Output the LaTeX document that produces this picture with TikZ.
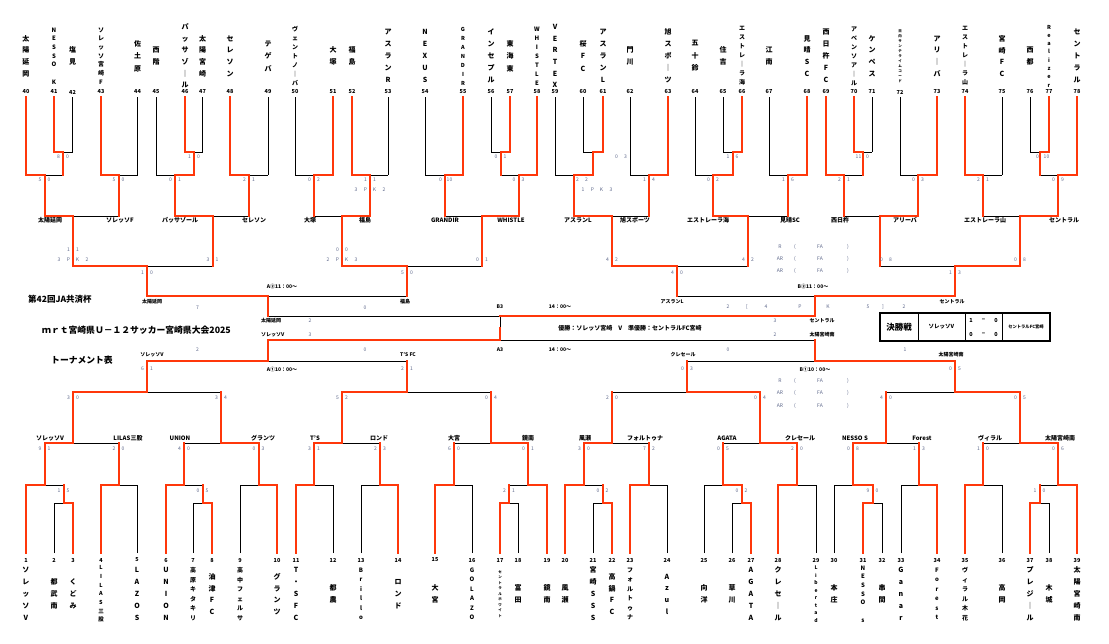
\documentclass[tikz,border=0pt]{standalone}
\usepackage{fontspec}
\setmainfont{Noto Sans CJK JP}
\definecolor{rd}{RGB}{255,55,10}
\definecolor{sg}{RGB}{95,105,140}
\pgfdeclarelayer{back}\pgfdeclarelayer{bg}\pgfsetlayers{back,bg,main}
\newcommand\mVw[3]{\draw[win] (#1,#2)--(#1,#3);}
\newcommand\mVl[3]{\begin{pgfonlayer}{bg}\draw[lose] (#1,#2)--(#1,#3);\end{pgfonlayer}}
\newcommand\mTL[4]{\if#4w\mVw{#1}{#2}{#3}\else\mVl{#1}{#2}{#3}\fi}
\newcommand\mJ[5]{\if#5l\draw[win] (#1,#4)--(#2,#4);\begin{pgfonlayer}{bg}\draw[lose] (#2,#4)--(#3,#4);\end{pgfonlayer}\else\begin{pgfonlayer}{bg}\draw[lose] (#1,#4)--(#2,#4);\end{pgfonlayer}\draw[win] (#2,#4)--(#3,#4);\fi}
\newcommand\mS[4]{\node[scs] at (#1-4.5,#2) {#3};\node[scs] at (#1+4.5,#2) {#4};}
\newcommand\mPK[4]{\node[scs] at (#1-14,#2) {#3};\node[scs] at (#1-4.5,#2) {P};\node[scs] at (#1+4.5,#2) {K};\node[scs] at (#1+14,#2) {#4};}
\newcommand\vn[5]{\node[vname,font=\fontsize{#3}{#4}\selectfont\bfseries] at (#1,#2) {#5};}
\def\yT{97}\def\yP{152}\def\yG{175}\def\yS{216}\def\yQ{266}\def\yH{296}\def\yF{316}\def\yM{328}
\def\yFF{340}\def\yBH{361}\def\yBQ{392}\def\yBS{443}\def\yBG{485}\def\yBP{503}\def\yB{553}
\begin{document}
\begin{tikzpicture}[x=1pt,y=-1pt,
 win/.style={draw=rd,line width=2pt,line cap=rect},
 lose/.style={draw=black,line width=0.8pt},
 scs/.style={font=\fontsize{5}{5}\selectfont,text=sg,inner sep=0pt},
 lab/.style={font=\fontsize{6}{6}\selectfont\bfseries,inner sep=0pt},
 slab/.style={font=\fontsize{5}{5}\selectfont\bfseries,inner sep=0pt},
 num/.style={font=\fontsize{5.5}{5.5}\selectfont\bfseries,inner sep=0pt},
 vname/.style={align=center,inner sep=0pt}]
\useasboundingbox (0,0) rectangle (1109,643);
\begin{pgfonlayer}{back}\fill[white] (0,0) rectangle (1109,643);\end{pgfonlayer}
% ================= TOP BRACKET =================
\mTL{26}{\yT}{\yG}{w}\mTL{54}{\yT}{\yP}{w}\mTL{72.5}{\yT}{\yP}{l}
\mJ{54}{63}{72.5}{\yP}{l}\mVw{63}{\yP}{\yG}\mJ{26}{44.6}{63}{\yG}{l}\mVw{44.6}{\yG}{\yS}
\mTL{101}{\yT}{\yG}{w}\mTL{137.5}{\yT}{\yG}{l}\mJ{101}{118.6}{137.5}{\yG}{l}\mVw{118.6}{\yG}{\yS}
\mJ{44.6}{73}{118.6}{\yS}{l}\mVw{73}{\yS}{\yQ}
\mTL{156}{\yT}{\yG}{l}\mTL{185}{\yT}{\yP}{w}\mTL{202.5}{\yT}{\yP}{l}
\mJ{185}{194}{202.5}{\yP}{l}\mVw{194}{\yP}{\yG}\mJ{156}{175}{194}{\yG}{r}\mVw{175}{\yG}{\yS}
\mTL{230}{\yT}{\yG}{w}\mTL{268}{\yT}{\yG}{l}\mJ{230}{249}{268}{\yG}{l}\mVw{249}{\yG}{\yS}
\mJ{175}{212.5}{249}{\yS}{l}\mVw{212.5}{\yS}{\yQ}
\mJ{73}{147}{212.5}{\yQ}{l}\mVw{147}{\yQ}{\yH}
\mTL{295}{\yT}{\yG}{l}\mTL{333}{\yT}{\yG}{w}\mJ{295}{314}{333}{\yG}{r}\mVw{314}{\yG}{\yS}
\mTL{352}{\yT}{\yG}{w}\mTL{388}{\yT}{\yG}{l}\mJ{352}{370}{388}{\yG}{l}\mVw{370}{\yG}{\yS}
\mJ{314}{342}{370}{\yS}{r}\mVw{342}{\yS}{\yQ}
\mTL{425}{\yT}{\yG}{l}\mTL{463}{\yT}{\yG}{w}\mJ{425}{445}{463}{\yG}{r}\mVw{445}{\yG}{\yS}
\mTL{491}{\yT}{\yP}{l}\mTL{510}{\yT}{\yP}{w}\mJ{491}{500.5}{510}{\yP}{r}\mVw{500.5}{\yP}{\yG}
\mTL{537}{\yT}{\yG}{w}\mJ{500.5}{518.6}{537}{\yG}{r}\mVw{518.6}{\yG}{\yS}
\mJ{445}{482}{518.6}{\yS}{r}\mVw{482}{\yS}{\yQ}
\mJ{342}{407}{482}{\yQ}{l}\mVw{407}{\yQ}{\yH}
\mJ{147}{268}{407}{\yH}{l}\mVw{268}{\yH}{\yF}
% top right
\mTL{555}{\yT}{\yG}{l}\mTL{583}{\yT}{\yP}{l}\mTL{603}{\yT}{\yP}{w}
\mJ{583}{593}{603}{\yP}{r}\mVw{593}{\yP}{\yG}\mJ{555}{574}{593}{\yG}{r}\mVw{574}{\yG}{\yS}
\mTL{630}{\yT}{\yG}{l}\mTL{668}{\yT}{\yG}{w}\mJ{630}{649}{668}{\yG}{r}\mVw{649}{\yG}{\yS}
\mJ{574}{612}{649}{\yS}{l}\mVw{612}{\yS}{\yQ}
\mTL{695}{\yT}{\yG}{l}\mTL{723}{\yT}{\yP}{l}\mTL{742}{\yT}{\yP}{w}
\mJ{723}{732.5}{742}{\yP}{r}\mVw{732.5}{\yP}{\yG}\mJ{695}{713}{732.5}{\yG}{r}\mVw{713}{\yG}{\yS}
\mTL{769}{\yT}{\yG}{l}\mTL{807}{\yT}{\yG}{w}\mJ{769}{788}{807}{\yG}{r}\mVw{788}{\yG}{\yS}
\mJ{713}{748}{788}{\yS}{l}\mVw{748}{\yS}{\yQ}
\mJ{612}{677}{748}{\yQ}{l}\mVw{677}{\yQ}{\yH}
\mTL{826}{\yT}{\yG}{w}\mTL{854}{\yT}{\yP}{w}\mTL{872}{\yT}{\yP}{l}
\mJ{854}{863}{872}{\yP}{l}\mVw{863}{\yP}{\yG}\mJ{826}{844}{863}{\yG}{l}\mVw{844}{\yG}{\yS}
\mTL{900}{\yT}{\yG}{l}\mTL{937}{\yT}{\yG}{w}\mJ{900}{918}{937}{\yG}{r}\mVw{918}{\yG}{\yS}
\mJ{844}{880}{918}{\yS}{r}\mVw{880}{\yS}{\yQ}
\mTL{965}{\yT}{\yG}{w}\mTL{1002}{\yT}{\yG}{l}\mJ{965}{983}{1002}{\yG}{l}\mVw{983}{\yG}{\yS}
\mTL{1030}{\yT}{\yP}{l}\mTL{1049}{\yT}{\yP}{w}\mJ{1030}{1039.5}{1049}{\yP}{r}\mVw{1039.5}{\yP}{\yG}
\mTL{1077}{\yT}{\yG}{w}\mJ{1039.5}{1058}{1077}{\yG}{r}\mVw{1058}{\yG}{\yS}
\mJ{983}{1020}{1058}{\yS}{r}\mVw{1020}{\yS}{\yQ}
\mJ{880}{955}{1020}{\yQ}{r}\mVw{955}{\yQ}{\yH}
\mJ{677}{815}{955}{\yH}{r}\mVw{815}{\yH}{\yF}
% ================= FINALS =================
\mJ{268}{500}{815}{\yF}{r}
\mJ{268}{500}{815}{\yFF}{l}
\mVl{500}{\yF}{\yM}\mVw{500}{\yFF}{\yM}
% ================= BOTTOM BRACKET =================
\mTL{26}{\yB}{\yBG}{w}\mTL{54}{\yB}{\yBP}{l}\mTL{73}{\yB}{\yBP}{w}
\mJ{54}{63.5}{73}{\yBP}{r}\mVw{63.5}{\yBP}{\yBG}\mJ{26}{44.6}{63.5}{\yBG}{l}\mVw{44.6}{\yBG}{\yBS}
\mTL{101}{\yB}{\yBG}{w}\mTL{137}{\yB}{\yBG}{l}\mJ{101}{118.6}{137}{\yBG}{l}\mVw{118.6}{\yBG}{\yBS}
\mJ{44.6}{73}{118.6}{\yBS}{l}\mVw{73}{\yBS}{\yBQ}
\mTL{166}{\yB}{\yBG}{w}\mTL{193}{\yB}{\yBP}{l}\mTL{212}{\yB}{\yBP}{w}
\mJ{193}{202.5}{212}{\yBP}{r}\mVw{202.5}{\yBP}{\yBG}\mJ{166}{184}{202.5}{\yBG}{l}\mVw{184}{\yBG}{\yBS}
\mTL{240}{\yB}{\yBG}{l}\mTL{277}{\yB}{\yBG}{w}\mJ{240}{258.5}{277}{\yBG}{r}\mVw{258.5}{\yBG}{\yBS}
\mJ{184}{221}{258.5}{\yBS}{r}\mVw{221}{\yBS}{\yBQ}
\mJ{73}{147}{221}{\yBQ}{l}\mVw{147}{\yBQ}{\yBH}
\mTL{296}{\yB}{\yBG}{w}\mTL{333}{\yB}{\yBG}{l}\mJ{296}{314}{333}{\yBG}{l}\mVw{314}{\yBG}{\yBS}
\mTL{361}{\yB}{\yBG}{l}\mTL{398}{\yB}{\yBG}{w}\mJ{361}{380}{398}{\yBG}{r}\mVw{380}{\yBG}{\yBS}
\mJ{314}{342}{380}{\yBS}{l}\mVw{342}{\yBS}{\yBQ}
\mTL{435}{\yB}{\yBG}{w}\mTL{472}{\yB}{\yBG}{l}\mJ{435}{454}{472}{\yBG}{l}\mVw{454}{\yBG}{\yBS}
\mTL{500}{\yB}{\yBP}{w}\mTL{518}{\yB}{\yBP}{l}\mJ{500}{509}{518}{\yBP}{l}\mVw{509}{\yBP}{\yBG}
\mTL{547}{\yB}{\yBG}{w}\mJ{509}{528}{547}{\yBG}{r}\mVw{528}{\yBG}{\yBS}
\mJ{454}{491}{528}{\yBS}{r}\mVw{491}{\yBS}{\yBQ}
\mJ{342}{407}{491}{\yBQ}{l}\mVw{407}{\yBQ}{\yBH}
\mJ{147}{268}{407}{\yBH}{l}\mVw{268}{\yBH}{\yFF}
\mTL{565}{\yB}{\yBG}{w}\mTL{593}{\yB}{\yBP}{l}\mTL{612}{\yB}{\yBP}{w}
\mJ{593}{602.5}{612}{\yBP}{r}\mVw{602.5}{\yBP}{\yBG}\mJ{565}{584}{602.5}{\yBG}{l}\mVw{584}{\yBG}{\yBS}
\mTL{630}{\yB}{\yBG}{w}\mTL{667}{\yB}{\yBG}{l}\mJ{630}{649}{667}{\yBG}{l}\mVw{649}{\yBG}{\yBS}
\mJ{584}{612}{649}{\yBS}{l}\mVw{612}{\yBS}{\yBQ}
\mTL{704}{\yB}{\yBG}{l}\mTL{732}{\yB}{\yBP}{l}\mTL{751}{\yB}{\yBP}{w}
\mJ{732}{741.5}{751}{\yBP}{r}\mVw{741.5}{\yBP}{\yBG}\mJ{704}{723}{741.5}{\yBG}{r}\mVw{723}{\yBG}{\yBS}
\mTL{778}{\yB}{\yBG}{w}\mTL{816}{\yB}{\yBG}{l}\mJ{778}{797}{816}{\yBG}{l}\mVw{797}{\yBG}{\yBS}
\mJ{723}{760}{797}{\yBS}{r}\mVw{760}{\yBS}{\yBQ}
\mJ{612}{687}{760}{\yBQ}{r}\mVw{687}{\yBQ}{\yBH}
\mTL{834}{\yB}{\yBG}{l}\mTL{863}{\yB}{\yBP}{w}\mTL{882}{\yB}{\yBP}{l}
\mJ{863}{872.5}{882}{\yBP}{l}\mVw{872.5}{\yBP}{\yBG}\mJ{834}{853}{872.5}{\yBG}{r}\mVw{853}{\yBG}{\yBS}
\mTL{901}{\yB}{\yBG}{l}\mTL{937}{\yB}{\yBG}{w}\mJ{901}{919}{937}{\yBG}{r}\mVw{919}{\yBG}{\yBS}
\mJ{853}{886}{919}{\yBS}{l}\mVw{886}{\yBS}{\yBQ}
\mTL{965}{\yB}{\yBG}{w}\mTL{1002}{\yB}{\yBG}{l}\mJ{965}{983}{1002}{\yBG}{l}\mVw{983}{\yBG}{\yBS}
\mTL{1030}{\yB}{\yBP}{w}\mTL{1049}{\yB}{\yBP}{l}\mJ{1030}{1039.5}{1049}{\yBP}{l}\mVw{1039.5}{\yBP}{\yBG}
\mTL{1077}{\yB}{\yBG}{w}\mJ{1039.5}{1058}{1077}{\yBG}{r}\mVw{1058}{\yBG}{\yBS}
\mJ{983}{1020}{1058}{\yBS}{r}\mVw{1020}{\yBS}{\yBQ}
\mJ{886}{955}{1020}{\yBQ}{r}\mVw{955}{\yBQ}{\yBH}
\mJ{687}{815}{955}{\yBH}{r}\mVw{815}{\yBH}{\yFF}
% ================= NUMBERS =================
\foreach \n/\x in {40/26,41/54,42/72.5,43/101,44/137.5,45/156,46/185,47/202.5,48/230,49/268,50/295,51/333,52/352,53/388,54/425,55/463,56/491,57/510,58/537,59/555,60/583,61/603,62/630,63/668,64/695,65/723,66/742,67/769,68/807,69/826,70/854,71/872,72/900,73/937,74/965,75/1002,76/1030,77/1049,78/1077}
  \node[num] (n\n) at (\x,92) {\n};
\foreach \n/\x in {1/26,2/54,3/73,4/101,5/137,6/166,7/193,8/212,9/240,10/277,11/296,12/333,13/361,14/398,15/435,16/472,17/500,18/518,19/547,20/565,21/593,22/612,23/630,24/667,25/704,26/732,27/751,28/778,29/816,30/834,31/863,32/882,33/901,34/937,35/965,36/1002,37/1030,38/1049,39/1077}
  \node[num] (n\n) at (\x,560) {\n};
% ================= TOP NAMES =================
\vn{26}{56}{7}{11.7}{太\\陽\\延\\岡}
\vn{54}{56}{6}{8.7}{N\\E\\S\\S\\O\\\mbox{}\\K}
\vn{72.5}{56}{7}{11.7}{塩\\見}
\vn{101}{56}{6}{8.7}{ソ\\レ\\ッ\\ソ\\宮\\崎\\F}
\vn{137.5}{56}{7}{12.5}{佐\\土\\原}
\vn{156}{56}{7}{11.7}{西\\階}
\vn{185}{56}{7}{11.6}{パ\\ッ\\サ\\ゾ\\｜\\ル}
\vn{202.5}{56}{7}{11.7}{太\\陽\\宮\\崎}
\vn{230}{56}{7}{11.7}{セ\\レ\\ソ\\ン}
\vn{268}{56}{7}{12.5}{テ\\ゲ\\バ}
\vn{295}{56}{6}{9}{ヴ\\ェ\\ン\\ト\\ノ\\｜\\バ}
\vn{333}{56}{7}{11.7}{大\\塚}
\vn{352}{56}{7}{11.7}{福\\島}
\vn{388}{56}{7}{12}{ア\\ス\\ラ\\ン\\R}
\vn{425}{56}{7}{12}{N\\E\\X\\U\\S}
\vn{463}{56}{5.5}{9}{G\\R\\A\\N\\D\\I\\R}
\vn{491}{56}{7}{12}{イ\\ン\\セ\\プ\\ル}
\vn{510}{56}{7}{12.5}{東\\海\\東}
\vn{537}{56}{6}{9}{W\\H\\I\\S\\T\\L\\E}
\vn{555}{56}{7}{11.6}{V\\E\\R\\T\\E\\X}
\vn{583}{56}{7}{12.5}{桜\\F\\C}
\vn{603}{56}{7}{12}{ア\\ス\\ラ\\ン\\L}
\vn{630}{56}{7}{11.7}{門\\川}
\vn{668}{56}{7}{12}{旭\\ス\\ポ\\｜\\ツ}
\vn{695}{56}{7}{12.5}{五\\十\\鈴}
\vn{723}{56}{7}{11.7}{住\\吉}
\vn{742}{56}{6}{9}{エ\\ス\\ト\\レ\\｜\\ラ\\海}
\vn{769}{56}{7}{11.7}{江\\南}
\vn{807}{56}{7}{11.7}{見\\晴\\S\\C}
\vn{826}{56}{7}{12}{西\\日\\杵\\F\\C}
\vn{854}{56}{6}{9}{ア\\ベ\\ン\\ソ\\ア\\｜\\ル}
\vn{872}{56}{7}{11.7}{ケ\\ン\\ペ\\ス}
\vn{900}{56}{3.5}{5}{日\\向\\サ\\ン\\テ\\ラ\\イ\\ム\\コ\\ー\\ド}
\vn{937}{56}{7}{11.7}{ア\\リ\\｜\\バ}
\vn{965}{56}{6}{9}{エ\\ス\\ト\\レ\\｜\\ラ\\山}
\vn{1002}{56}{7}{11.7}{宮\\崎\\F\\C}
\vn{1030}{56}{7}{11.7}{西\\都}
\vn{1049}{56}{5.5}{8.3}{R\\e\\a\\l\\i\\z\\e\\r}
\vn{1077}{56}{7}{12}{セ\\ン\\ト\\ラ\\ル}
% ================= BOTTOM NAMES =================
\vn{26}{594}{7}{12}{ソ\\レ\\ッ\\ソ\\V}
\vn{54}{594}{7}{11.7}{都\\武\\南}
\vn{73}{594}{7}{11.7}{く\\ど\\み}
\vn{101}{594}{5.5}{8.7}{L\\I\\L\\A\\S\\三\\股}
\vn{137}{594}{7}{12}{L\\A\\Z\\O\\S}
\vn{166}{594}{7}{12}{U\\N\\I\\O\\N}
\vn{193}{594}{6}{9.5}{高\\原\\キ\\タ\\キ\\リ}
\vn{212}{594}{7}{11.7}{油\\津\\F\\C}
\vn{240}{594}{6}{9.5}{高\\中\\フ\\ェ\\ル\\サ}
\vn{277}{594}{7}{11.7}{グ\\ラ\\ン\\ツ}
\vn{296}{594}{7}{12}{T\\・\\S\\F\\C}
\vn{333}{594}{7}{11.7}{都\\農}
\vn{361}{594}{6}{9.5}{B\\r\\i\\l\\l\\o}
\vn{398}{594}{7}{11.7}{ロ\\ン\\ド}
\vn{435}{594}{7}{11.7}{大\\宮}
\vn{472}{594}{6}{9.5}{G\\O\\L\\A\\Z\\O}
\vn{500}{594}{3.5}{5.5}{セ\\ン\\ト\\ラ\\ル\\ホ\\ワ\\イ\\ト}
\vn{518}{594}{7}{11.7}{富\\田}
\vn{547}{594}{7}{11.7}{鏡\\南}
\vn{565}{594}{7}{11.7}{風\\瀬}
\vn{593}{594}{7}{12}{宮\\崎\\S\\S\\S}
\vn{612}{594}{7}{11.7}{高\\鍋\\F\\C}
\vn{630}{594}{6}{9.5}{フ\\ォ\\ル\\ト\\ゥ\\ナ}
\vn{667}{594}{7}{11.7}{A\\z\\u\\l}
\vn{704}{594}{7}{11.7}{向\\洋}
\vn{732}{594}{7}{11.7}{草\\川}
\vn{751}{594}{7}{12}{A\\G\\A\\T\\A}
\vn{778}{594}{7}{12}{ク\\レ\\セ\\｜\\ル}
\vn{816}{594}{5}{7.5}{L\\i\\b\\e\\r\\t\\a\\d}
\vn{834}{594}{7}{11.7}{本\\庄}
\vn{863}{594}{6}{8.7}{N\\E\\S\\S\\O\\\mbox{}\\s}
\vn{882}{594}{7}{11.7}{串\\間}
\vn{901}{594}{7}{12}{G\\a\\n\\a\\r}
\vn{937}{594}{6}{9.5}{F\\o\\r\\e\\s\\t}
\vn{965}{594}{6}{9.5}{ヴ\\ィ\\ラ\\ル\\木\\花}
\vn{1002}{594}{7}{11.7}{高\\岡}
\vn{1030}{594}{7}{12}{プ\\レ\\ジ\\｜\\ル}
\vn{1049}{594}{7}{11.7}{木\\城}
\vn{1077}{594}{7}{12}{太\\陽\\宮\\崎\\南}
% ================= SLOT LABELS =================
\foreach \x/\t in {50/太陽延岡,120/ソレッソF,180/パッサゾール,254/セレソン,310/大塚,365/福島,445/GRANDIR,511/WHISTLE,578/アスランL,635/旭スポーツ,708/エストレーラ海,790/見晴SC,840/西日杵,905/アリーバ,985/エストレーラ山,1064/セントラル}
  \node[lab] at (\x,220) {\t};
\foreach \x/\t in {50/ソレッソV,128/LILAS三股,180/UNION,263/グランツ,315/T'S,379/ロンド,454/大宮,528/鏡南,585/風瀬,645/フォルトゥナ,727/AGATA,800/クレセール,855/NESSO S,922/Forest,990/ヴィラル,1060/太陽宮崎南}
  \node[lab] at (\x,438) {\t};
% ================= SCORES =================
\mS{63}{157}{8}{0}\mS{194}{157}{1}{0}\mS{500.5}{157}{0}{1}\mS{621}{157}{0}{3}
\mS{732.5}{157}{1}{6}\mS{863}{157}{11}{0}\mS{1042}{157}{0}{10}
\mS{44.6}{180}{5}{0}\mS{118.6}{180}{5}{0}\mS{175}{180}{0}{1}\mS{249}{180}{2}{1}
\mS{314}{180}{0}{2}\mS{370}{180}{1}{1}\mPK{370}{190}{3}{2}\mS{445}{180}{0}{10}
\mS{518.6}{180}{0}{3}\mS{582}{180}{2}{2}\mPK{597}{190}{1}{3}\mS{649}{180}{1}{4}
\mS{713}{180}{0}{2}\mS{788}{180}{1}{6}\mS{844}{180}{2}{1}\mS{918}{180}{0}{3}
\mS{983}{180}{2}{1}\mS{1058}{180}{0}{9}
\mS{73}{250}{1}{1}\mPK{73}{260}{3}{2}\mS{212.5}{260}{3}{1}\mS{342}{250}{0}{0}\mPK{342}{260}{2}{3}
\mS{482}{260}{0}{1}\mS{612}{260}{4}{2}\mS{748}{260}{4}{2}\mS{886}{260}{0}{8}\mS{1020}{260}{0}{8}
\mS{147}{273}{1}{0}\mS{407}{273}{5}{0}\mS{677}{273}{4}{0}\mS{955}{273}{1}{3}
\mS{63.5}{491}{1}{5}\mS{202.5}{491}{0}{5}\mS{509}{491}{2}{1}\mS{602.5}{491}{0}{2}
\mS{741.5}{491}{0}{2}\mS{872.5}{491}{9}{0}\mS{1039.5}{491}{1}{0}
\mS{44.6}{449}{9}{1}\mS{118.6}{449}{2}{0}\mS{184}{449}{4}{0}\mS{258.5}{449}{0}{3}
\mS{314}{449}{3}{1}\mS{380}{449}{2}{3}\mS{454}{449}{6}{0}\mS{528}{449}{0}{1}
\mS{584}{449}{3}{0}\mS{649}{449}{7}{2}\mS{723}{449}{0}{5}\mS{797}{449}{2}{0}
\mS{853}{449}{0}{8}\mS{919}{449}{1}{3}\mS{983}{449}{1}{0}\mS{1058}{449}{0}{6}
\mS{73}{398}{3}{0}\mS{221}{398}{3}{4}\mS{342}{398}{5}{2}\mS{491}{398}{0}{4}
\mS{612}{398}{2}{0}\mS{760}{398}{0}{4}\mS{886}{398}{4}{0}\mS{1020}{398}{0}{5}
\mS{147}{369}{6}{1}\mS{407}{369}{2}{1}\mS{687}{369}{0}{3}\mS{955}{369}{0}{5}
% ================= CENTRE TEXTS =================
\node[slab] (a2) at (282,287) {A②11：00～};
\node[slab] (b2) at (813,287) {B②11：00～};
\node[slab] (a1) at (282,370) {A①10：00～};
\node[slab] (b1) at (815,370) {B①10：00～};
\node[slab] at (152,302) {太陽延岡};
\node[slab] at (405,302) {福島};
\node[slab] at (672,302) {アスランL};
\node[slab] at (952,302) {セントラル};
\node[slab] at (152,355) {ソレッソV};
\node[slab] at (408,355) {T'S FC};
\node[slab] at (683,355) {クレセール};
\node[slab] at (951,355) {太陽宮崎南};
\node[scs] at (197.5,308) {7};\node[scs] at (365,308) {0};
\node[scs] at (197.5,350) {2};\node[scs] at (365,350) {0};
\node[scs] at (728,350) {0};\node[scs] at (905,350) {1};
\foreach \x/\t in {728/2,747/[,766/4,800/P,828/K,868/5,883/],904/2} \node[scs] at (\x,307) {\t};
\node[slab] at (500,307) {B3};\node[slab] at (560,307) {14：00～};
\node[slab] at (500,350) {A3};\node[slab] at (560,350) {14：00～};
\node[slab,anchor=west] at (261,321) {太陽延岡};\node[scs] at (310,321) {2};
\node[slab,anchor=west] at (261,335) {ソレッソV};\node[scs] at (310,335) {3};
\node[scs] at (775,321) {3};\node[slab] at (822,321) {セントラル};
\node[scs] at (775,335) {2};\node[slab] at (822,335) {太陽宮崎南};
\node[font=\fontsize{6}{6}\selectfont\bfseries,inner sep=0pt] (champ) at (630,328) {優勝：ソレッソ宮崎　V　準優勝：セントラルFC宮崎};
\foreach \yy/\l in {247/R,259/AR,271/AR,381/R,393/AR,406/AR} {
  \node[scs] at (780,\yy) {\l};\node[scs] at (795,\yy) {(};\node[scs] at (820,\yy) {FA};\node[scs] at (848,\yy) {)};}
% titles
\node[font=\fontsize{8.5}{8.5}\selectfont\bfseries,anchor=west,inner sep=0pt] (ti1) at (28,299) {第42回JA共済杯};
\node[font=\fontsize{8.8}{8.8}\selectfont\bfseries,anchor=west,inner sep=0pt] (ti2) at (42,330) {ｍｒｔ宮崎県Ｕ－１２サッカー宮崎県大会2025};
\node[font=\fontsize{8.8}{8.8}\selectfont\bfseries,anchor=west,inner sep=0pt] (ti3) at (51,360) {トーナメント表};
% final box
\draw[line width=1.6pt] (880,313) rectangle (1050,341);
\draw[line width=0.8pt] (918,313)--(918,341) (965,313)--(965,341) (1002,313)--(1002,341);
\node[font=\fontsize{8.5}{8.5}\selectfont\bfseries,inner sep=0pt] (kf) at (899,327) {決勝戦};
\node[font=\fontsize{5.5}{5.5}\selectfont\bfseries,inner sep=0pt] (kw) at (941.5,327) {ソレッソV};
\node[font=\fontsize{5.5}{5.5}\selectfont\bfseries,inner sep=0pt] at (971,320) {1};
\node[font=\fontsize{5.5}{5.5}\selectfont\bfseries,inner sep=0pt] at (983.5,320) {−};
\node[font=\fontsize{5.5}{5.5}\selectfont\bfseries,inner sep=0pt] at (996,320) {0};
\node[font=\fontsize{5.5}{5.5}\selectfont\bfseries,inner sep=0pt] at (971,334) {0};
\node[font=\fontsize{5.5}{5.5}\selectfont\bfseries,inner sep=0pt] at (983.5,334) {−};
\node[font=\fontsize{5.5}{5.5}\selectfont\bfseries,inner sep=0pt] at (996,334) {0};
\node[font=\fontsize{4.3}{4.3}\selectfont\bfseries,inner sep=0pt] (kl) at (1026,327) {セントラルFC宮崎};
\end{tikzpicture}
\end{document}
